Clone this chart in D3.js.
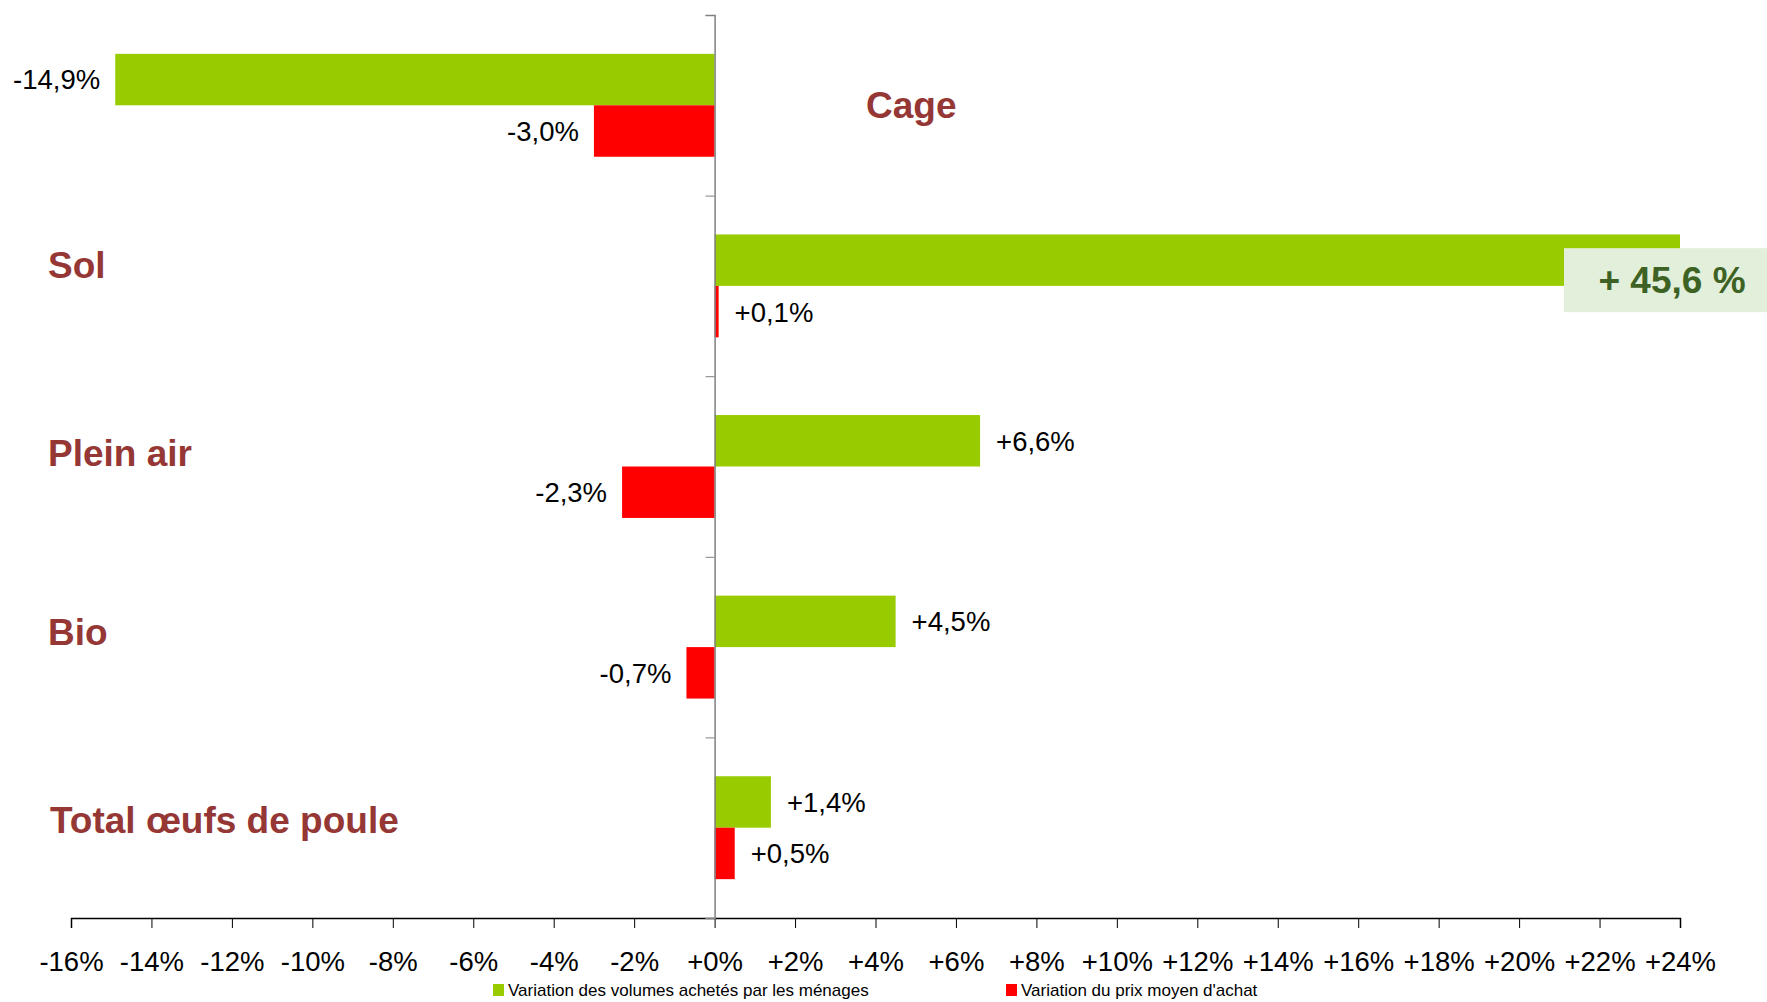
<!DOCTYPE html>
<html>
<head>
<meta charset="utf-8">
<script src="https://cdn.jsdelivr.net/npm/d3@7"></script>
<style>
  body { margin: 0; background: #fff; }
  text { font-family: "Liberation Sans", Arial, sans-serif; }
</style>
</head>
<body>
<div class="chart"></div>
<script>
// data
var categories = ["Cage", "Sol", "Plein air", "Bio", "Total œufs de poule"];
var volumes = [-14.9, 45.6, 6.6, 4.5, 1.4];   // variation des volumes achetés
var prix = [-3.0, 0.1, -2.3, -0.7, 0.5];      // variation du prix moyen
var xTicks = [-16, -14, -12, -10, -8, -6, -4, -2, 0, 2, 4, 6, 8, 10, 12, 14, 16, 18, 20, 22, 24];
var seriesNames = ["Variation des volumes achetés par les ménages", "Variation du prix moyen d'achat"];

var svgWidth = 1767;
var svgHeight = 1002;
var colors = ["#99cc00", "#ff0000"];
var labelColor = "#953735";

var svg = d3.select(".chart")
  .append("svg")
  .attr("width", svgWidth)
  .attr("height", svgHeight);

var xScale = d3.scaleLinear().domain([-16, 24]).range([71, 1680]);
var yScale = d3.scaleBand().domain(categories).range([15, 918]).padding(0);
var inner = d3.scaleBand().domain([0, 1]).range([0, yScale.bandwidth()]).paddingOuter(0.755);

var fmt = function(v) {
  var s = Math.abs(v).toFixed(1).replace(".", ",");
  return (v < 0 ? "-" : "+") + s + "%";
};

var rows = categories.map(function(c, i) {
  return { cat: c, vals: [volumes[i], prix[i]] };
});

// bars
var groups = svg.selectAll("g.row")
  .data(rows)
  .enter().append("g")
  .attr("class", "row")
  .attr("transform", function(d) { return "translate(0," + yScale(d.cat) + ")"; });

groups.selectAll("rect")
  .data(function(d) { return d.vals.map(function(v, k) { return { v: v, k: k }; }); })
  .enter().append("rect")
  .attr("x", function(d) { return xScale(Math.min(0, d.v)); })
  .attr("width", function(d) {
    var v = Math.min(d.v, 24);
    return Math.abs(xScale(v) - xScale(0));
  })
  .attr("y", function(d) { return inner(d.k); })
  .attr("height", inner.bandwidth())
  .attr("fill", function(d) { return colors[d.k]; });

// value labels (not for the clipped Sol bar)
groups.selectAll("text.val")
  .data(function(d) {
    return d.vals.map(function(v, k) { return { v: v, k: k }; }).filter(function(d) { return d.v <= 24; });
  })
  .enter().append("text")
  .attr("class", "val")
  .attr("x", function(d) { return d.v < 0 ? xScale(d.v) - 15 : xScale(d.v) + 16; })
  .attr("y", function(d) { return inner(d.k) + inner.bandwidth() / 2; })
  .attr("dy", "0.36em")
  .attr("text-anchor", function(d) { return d.v < 0 ? "end" : "start"; })
  .attr("font-size", 27.5)
  .attr("fill", "#000")
  .text(function(d) { return fmt(d.v); });

// callout for the clipped bar
var solY = yScale("Sol") + inner(0) + inner.bandwidth() / 2;
var callout = svg.append("g").attr("transform", "translate(1564," + (solY - 12) + ")");
callout.append("rect")
  .attr("width", 203)
  .attr("height", 64)
  .attr("fill", "#e2efda");
callout.append("text")
  .attr("x", 108)
  .attr("y", 32)
  .attr("dy", "0.36em")
  .attr("text-anchor", "middle")
  .attr("font-size", 37)
  .attr("font-weight", "bold")
  .attr("fill", "#3d6224")
  .text("+ " + volumes[1].toFixed(1).replace(".", ",") + " %");

// category labels
var labelX = [866, 48, 48, 48, 50];
var labelDy = [-1, -21, -14, -15, -8];
svg.selectAll("text.cat")
  .data(categories)
  .enter().append("text")
  .attr("class", "cat")
  .attr("x", function(d, i) { return labelX[i]; })
  .attr("y", function(d, i) { return yScale(d) + yScale.bandwidth() / 2 + labelDy[i]; })
  .attr("dy", "0.36em")
  .attr("font-size", 37)
  .attr("font-weight", "bold")
  .attr("fill", labelColor)
  .text(function(d) { return d; });

// x axis
var xAxis = d3.axisBottom(xScale)
  .tickValues(xTicks)
  .tickSize(10)
  .tickSizeOuter(10)
  .tickPadding(23)
  .tickFormat(function(d) { return (d < 0 ? "" : "+") + d + "%"; });

var gx = svg.append("g")
  .attr("class", "x axis")
  .attr("transform", "translate(0,918)")
  .call(xAxis);
gx.select(".domain").attr("stroke", "#000").attr("stroke-width", 1.5);
gx.selectAll(".tick line").attr("stroke", "#000");
gx.selectAll(".tick text")
  .attr("font-size", 27.5)
  .attr("font-family", "Liberation Sans, Arial, sans-serif")
  .attr("fill", "#000");

// zero axis with category separators
var yAxis = d3.axisLeft(d3.scaleLinear().domain([0, 5]).range([15, 918]))
  .ticks(5)
  .tickSize(9)
  .tickSizeOuter(9)
  .tickFormat("");
var gy = svg.append("g")
  .attr("transform", "translate(" + xScale(0) + ",0)")
  .call(yAxis);
gy.select(".domain").attr("stroke", "#808080").attr("stroke-width", 1.5);
gy.selectAll(".tick line").attr("stroke", "#808080");

// legend
var legendX = [493, 1006];
var legend = svg.selectAll("g.legend")
  .data(seriesNames)
  .enter().append("g")
  .attr("class", "legend")
  .attr("transform", function(d, i) { return "translate(" + legendX[i] + ",990)"; });
legend.append("rect")
  .attr("x", 0)
  .attr("y", -6)
  .attr("width", 11)
  .attr("height", 12)
  .attr("fill", function(d, i) { return colors[i]; });
legend.append("text")
  .attr("x", 15)
  .attr("y", 0)
  .attr("dy", "0.36em")
  .attr("font-size", 17)
  .attr("fill", "#000")
  .text(function(d) { return d; });
</script>
</body>
</html>
